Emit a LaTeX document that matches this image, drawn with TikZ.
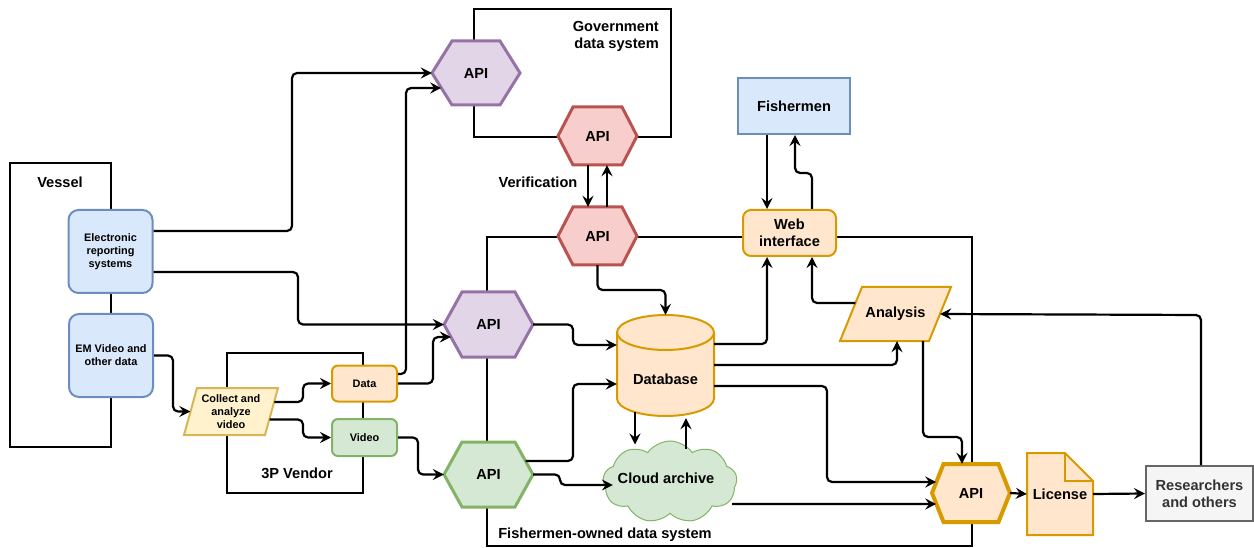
\documentclass[tikz,border=0pt]{standalone}
\usepackage{fontspec}
\setmainfont{Liberation Sans}
\usetikzlibrary{arrows.meta,shapes.symbols}

\definecolor{blueFill}{HTML}{DAE8FC}\definecolor{blueLine}{HTML}{6C8EBF}
\definecolor{orangeFill}{HTML}{FFE6CC}\definecolor{orangeLine}{HTML}{D79B00}
\definecolor{yellowFill}{HTML}{FFF2CC}\definecolor{yellowLine}{HTML}{D6B656}
\definecolor{greenFill}{HTML}{D5E8D4}\definecolor{greenLine}{HTML}{82B366}
\definecolor{purpleFill}{HTML}{E1D5E7}\definecolor{purpleLine}{HTML}{9673A6}
\definecolor{redFill}{HTML}{F8CECC}\definecolor{redLine}{HTML}{B85450}
\definecolor{greyFill}{HTML}{F5F5F5}\definecolor{greyLine}{HTML}{666666}
\definecolor{greyText}{HTML}{333333}

\pgfdeclarelayer{frames}
\pgfdeclarelayer{shapes}
\pgfsetlayers{frames,shapes,main}

\tikzset{
  big/.style={font=\fontsize{14.6}{17}\selectfont\bfseries},
  small/.style={font=\fontsize{10.9}{13}\selectfont\bfseries},
  txtnode/.style={rectangle, inner sep=0pt, align=center},
  frame/.style={rectangle, draw=black, line width=2pt, inner sep=0pt},
  box/.style={rectangle, line width=2pt, inner sep=0pt, align=center},
  bluebox/.style={box, fill=blueFill, draw=blueLine},
  orangebox/.style={box, fill=orangeFill, draw=orangeLine},
  greenbox/.style={box, fill=greenFill, draw=greenLine},
  purplehex/.style={fill=purpleFill, draw=purpleLine, line width=3pt},
  redhex/.style={fill=redFill, draw=redLine, line width=3pt},
  greenhex/.style={fill=greenFill, draw=greenLine, line width=3pt},
  orangehex/.style={fill=orangeFill, draw=orangeLine, line width=4pt},
  orangeshape/.style={fill=orangeFill, draw=orangeLine, line width=2pt},
  yellowshape/.style={fill=yellowFill, draw=yellowLine, line width=2pt},
  conn/.style={draw=black, line width=2.2pt, rounded corners=5pt,
    -{Stealth[length=11pt,width=11pt,inset=4pt]}},
}

% hexagon: name, x, y, half width, half height, inset, style, text
\newcommand\hexnode[8]{%
  \node[txtnode, big, minimum width=2*#4, minimum height=2*#5] (#1) at (#2,#3) {#8};
  \begin{pgfonlayer}{shapes}
    \draw[#7] (#2-#4,#3) -- (#2-#4+#6,#3-#5) -- (#2+#4-#6,#3-#5) -- (#2+#4,#3)
      -- (#2+#4-#6,#3+#5) -- (#2-#4+#6,#3+#5) -- cycle;
  \end{pgfonlayer}}

% parallelogram: name, x, y, half width at mid height, half height, half slant, font, style, text
\newcommand\slantbox[9]{%
  \node[txtnode, #7, minimum width=2*#4, minimum height=2*#5] (#1) at (#2,#3) {#9};
  \begin{pgfonlayer}{shapes}
    \draw[#8] (#2-#4-#6,#3+#5) -- (#2-#4+#6,#3-#5) -- (#2+#4+#6,#3-#5)
      -- (#2+#4-#6,#3+#5) -- cycle;
  \end{pgfonlayer}}

\begin{document}
\begin{tikzpicture}[x=1pt, y=-1pt]
\useasboundingbox (0,0) rectangle (1254,548);

% ---- containers ----
\begin{pgfonlayer}{frames}
  \node[frame, minimum width=101, minimum height=283] (vessel) at (60.5,305) {};
  \node[frame, minimum width=136, minimum height=140] (vendor) at (295,423) {};
  \node[frame, minimum width=197, minimum height=128] (gov) at (572.5,73) {};
  \node[frame, minimum width=485, minimum height=309] (fishsys) at (729.5,391.5) {};
\end{pgfonlayer}
\node[txtnode, big] (vesselLbl) at (60,182) {Vessel};
\node[txtnode, big] (vendorLbl) at (297,473) {3P Vendor};
\node[txtnode, big, align=right, anchor=east] (govLbl) at (659,36) {Government\\data system};
\node[txtnode, big] (verifLbl) at (538,182) {Verification};
\node[txtnode, big] (fishsysLbl) at (605,535) {Fishermen-owned data system};

% ---- vessel side ----
\node[bluebox, small, rounded corners=10pt, minimum width=84, minimum height=83] (ers) at (110.5,251.5) {Electronic\\reporting\\systems};
\node[bluebox, small, rounded corners=10pt, minimum width=84, minimum height=83] (em) at (111,355.5) {EM Video and\\other data};

% ---- vendor ----
\slantbox{collect}{231}{411.5}{40.5}{23.5}{6.5}{small}{yellowshape}{Collect and\\analyze\\video}
\node[orangebox, small, rounded corners=6pt, minimum width=65, minimum height=36] (data) at (364.5,383.5) {Data};
\node[greenbox, small, rounded corners=6pt, minimum width=65, minimum height=37] (video) at (364.5,437.5) {Video};

% ---- API hexagons ----
\hexnode{apiT}{476}{73}{44}{32}{20}{purplehex}{API}
\hexnode{apiG}{597.5}{136}{39.5}{29}{15}{redhex}{API}
\hexnode{apiF}{597.5}{236}{39.5}{29}{15}{redhex}{API}
\hexnode{apiM}{488.5}{324.5}{44.5}{32.5}{18}{purplehex}{API}
\hexnode{apiGr}{488.5}{474.5}{44.5}{32.5}{18}{greenhex}{API}
\hexnode{apiO}{971}{493}{39}{29}{11.5}{orangehex}{API}

% ---- fishermen side ----
\node[bluebox, big, minimum width=112, minimum height=56] (fishermen) at (794,106) {Fishermen};
\node[orangebox, big, rounded corners=8pt, minimum width=93, minimum height=46] (web) at (789.5,233) {Web\\interface};
\slantbox{analysis}{895.5}{314}{44.5}{27}{11}{big}{orangeshape}{Analysis}

% database cylinder
\node[txtnode, minimum width=97, minimum height=101] (db) at (665.5,365.5) {};
\begin{pgfonlayer}{shapes}
  \draw[orangeshape] (617,332.5) -- (617,398.5)
    arc[start angle=180, end angle=0, x radius=48.5, y radius=17.5]
    -- (714,332.5)
    arc[start angle=0, end angle=-180, x radius=48.5, y radius=17.5] -- cycle;
  \draw[orangeshape, fill=none] (617,332.5)
    arc[start angle=180, end angle=0, x radius=48.5, y radius=17.5];
\end{pgfonlayer}
\node[txtnode, big] (dbLbl) at (665.5,379) {Database};

% cloud archive
\node[cloud, cloud puffs=9, cloud puff arc=110, cloud ignores aspect, fill=greenFill, draw=greenLine,
  line width=1pt, minimum width=134, minimum height=82, inner sep=0pt, big] (cloud) at (670,482) {};
\node[txtnode, big] (cloudLbl) at (666,478) {Cloud archive};

% license document
\node[txtnode, big, minimum width=66, minimum height=82] (lic) at (1060,494) {License};
\begin{pgfonlayer}{shapes}
  \draw[orangeshape] (1027,453) -- (1065,453) -- (1093,481) -- (1093,535) -- (1027,535) -- cycle;
  \draw[orangeshape, fill=none, line join=miter] (1065,453) -- (1065,481) -- (1093,481);
\end{pgfonlayer}

\node[box, big, fill=greyFill, draw=greyLine, text=greyText, minimum width=107, minimum height=55] (res) at (1199.5,493.5) {Researchers\\and others};

% ---- connectors ----
\draw[conn] (ers.east |- 0,231) -- (292,231) -- (292,73) -- (apiT.west);
\draw[conn] (ers.east |- 0,272) -- (298,272) -- (298,324.5) -- (apiM.west);
\draw[conn] (data.east |- 0,374) -- (406,374) -- (406,88) -- ([shift={(9.4,15)}]apiT.west);
\draw[conn] (data.east) -- (433,383.5) -- (433,337) -- ([shift={(7,12.5)}]apiM.west);
\draw[conn] (em.east) -- (173,355.5) -- (173,411.5) -- (collect.west);
\draw[conn] ([shift={(2.6,-9.5)}]collect.east) -- (303,402) -- (303,383.5) -- (data.west);
\draw[conn] ([shift={(-2.2,8)}]collect.east) -- (303,419.5) -- (303,437.5) -- (video.west);
\draw[conn] (video.east) -- (418,437.5) -- (418,474.5) -- (apiGr.west);

\draw[conn] (588,0 |- apiG.south) -- (588,0 |- apiF.north);
\draw[conn] (607,0 |- apiF.north) -- (607,0 |- apiG.south);
\draw[conn] (apiF.south) -- (597.5,290) -- (665.5,290) -- (db.north);

\draw[conn] (apiM.east) -- (573,324.5) -- (573,345) -- (db.west |- 0,345);
\draw[conn] ([shift={(-7.5,-13.5)}]apiGr.east) -- (573,461) -- (573,384) -- (db.west |- 0,384);
\draw[conn] (apiGr.east) -- (560,474.5) -- (560,485) -- ([shift={(10,3)}]cloud.west);
\draw[conn] ([shift={(-30.5,-4)}]db.south) -- ([shift={(-35,4)}]cloud.north);
\draw[conn] ([shift={(16,8)}]cloud.north) -- ([shift={(20.5,2)}]db.south);

\draw[conn] (db.east |- 0,344) -- (767,344) -- (767,0 |- web.south);
\draw[conn] ([shift={(4.5,-11)}]analysis.west) -- (812,303) -- (812,0 |- web.south);
\draw[conn] (db.east |- 0,365) -- (897,365) -- (897,0 |- analysis.south);
\draw[conn] (db.east |- 0,386) -- (827,386) -- (827,482) -- ([shift={(4.4,-11)}]apiO.west);
\draw[conn] ([shift={(-5,22)}]cloud.east) -- ([shift={(4.4,11)}]apiO.west);
\draw[conn] (923,0 |- analysis.south) -- (923,437) -- (962,437) -- (962,0 |- apiO.north);

\draw[conn] (767,0 |- fishermen.south) -- (767,0 |- web.north);
\draw[conn] (812,0 |- web.north) -- (812,173) -- (795,173) -- (795,0 |- fishermen.south);

\draw[conn] (apiO.east) -- (lic.west);
\draw[conn] (lic.east) -- (res.west);
\draw[conn] (1201,0 |- res.north) -- (1201,315) -- (analysis.east);
\end{tikzpicture}
\end{document}
